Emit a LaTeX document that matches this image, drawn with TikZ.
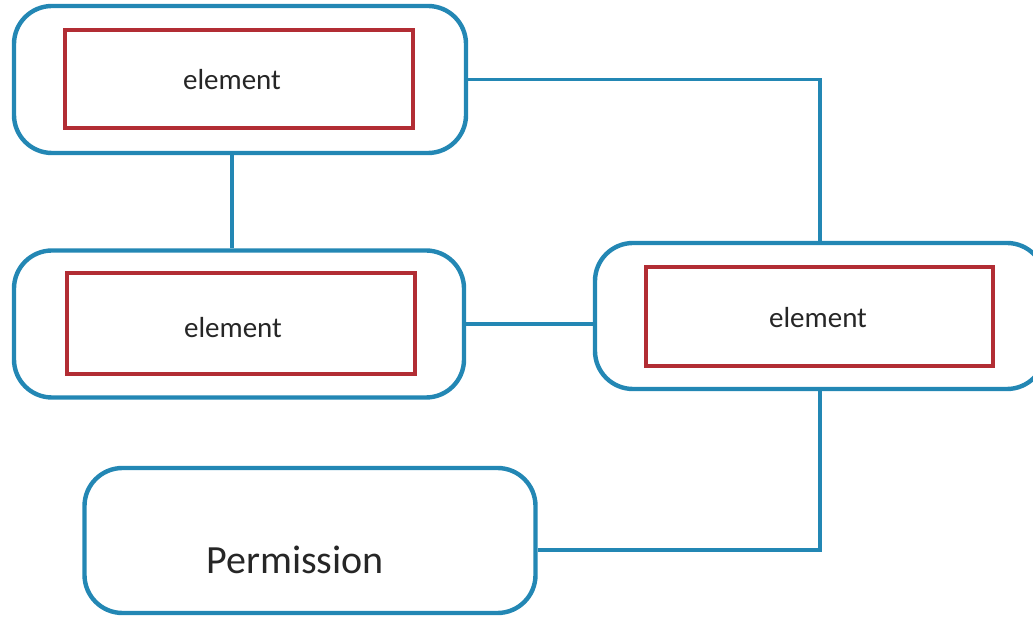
\documentclass[tikz,border=0pt]{standalone}
\usepackage{fontspec}
\setmainfont{Carlito}

\definecolor{boxblue}{RGB}{35,135,180}
\definecolor{boxred}{RGB}{178,45,52}

\begin{document}
\begin{tikzpicture}[x=0.5pt,y=-0.5pt,
    outer/.style={draw=boxblue,line width=2.2pt,rounded corners=19pt,inner sep=0pt},
    inner/.style={draw=boxred,line width=2pt,inner sep=0pt},
    wire/.style={draw=boxblue,line width=1.8pt},
    lbl/.style={text=black!85,inner sep=0pt,font=\fontsize{14.5}{16}\selectfont}]
    \useasboundingbox (0,0) rectangle (1033,619);
    % top element
    \node[outer,minimum width=226pt,minimum height=73.5pt] (top) at (240,79.5) {};
    \node[inner,minimum width=174pt,minimum height=49pt] (topel) at (239,79) {};
    \node[lbl] (toptext) at (232,80) {element};
    % middle element
    \node[outer,minimum width=225pt,minimum height=73.5pt] (mid) at (239,324) {};
    \node[inner,minimum width=174pt,minimum height=50.5pt] (midel) at (241,323.5) {};
    \node[lbl] (midtext) at (233,328) {element};
    % right element
    \node[outer,minimum width=225pt,minimum height=73pt] (right) at (820,316) {};
    \node[inner,minimum width=173.5pt,minimum height=49.5pt] (rightel) at (819.5,316.5) {};
    \node[lbl] (righttext) at (818,318) {element};
    % permission
    \node[outer,minimum width=225.5pt,minimum height=72.5pt] (perm) at (310,540.5) {};
    \node[lbl,font=\fontsize{20}{22}\selectfont] (permtext) at (295,560) {Permission};
    \coordinate (bend) at (821,550);
    % connectors
    \draw[wire] (top.east) -| (right.north);
    \draw[wire] (toptext |- top.south) -- (toptext |- mid.north);
    \draw[wire] (mid.east) -- (mid.east -| right.west);
    \draw[wire] (right.south) |- (bend -| perm.east);
\end{tikzpicture}
\end{document}
